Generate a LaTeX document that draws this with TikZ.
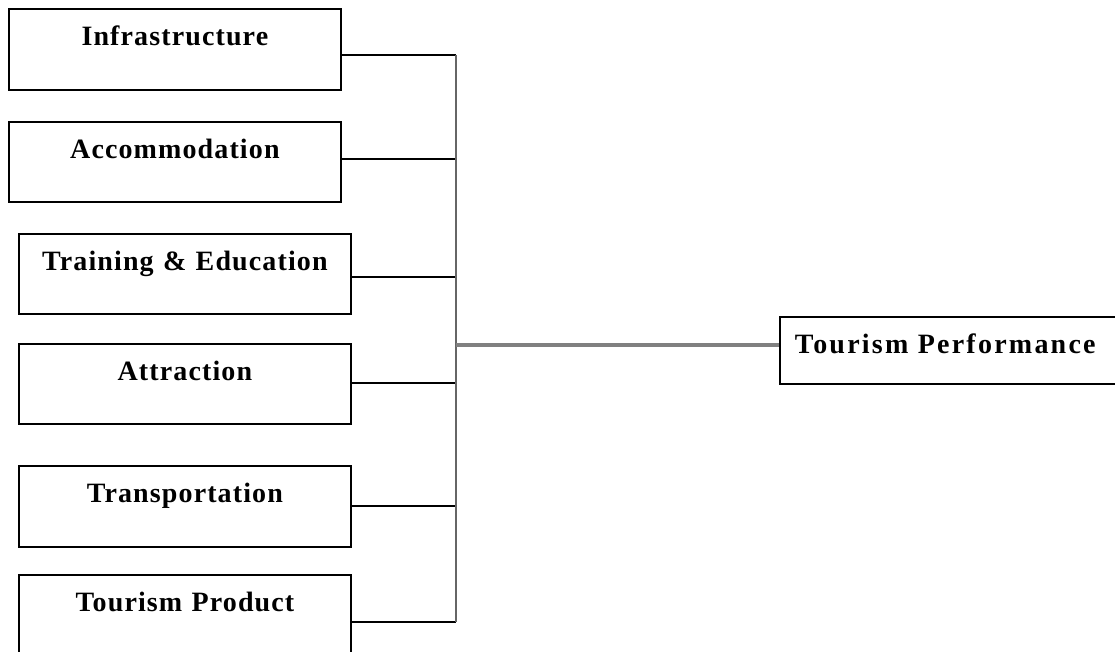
\documentclass[tikz,border=0pt]{standalone}
\usepackage{fontspec}
\setmainfont{Liberation Serif}[LetterSpace=4]
\usetikzlibrary{calc}

\tikzset{
  factor/.style={draw, line width=1.8pt, inner sep=0pt, anchor=north west,
    text width=#1, align=center, text height=37pt,
    font=\fontsize{28}{30}\selectfont\bfseries},
  link/.style={line width=1.6pt},
  bus/.style={line width=2.2pt, black!60},
  mainlink/.style={line width=3.2pt, black!50}
}

\begin{document}
\begin{tikzpicture}[x=1pt,y=-1pt]
        \useasboundingbox (0,0) rectangle (1115,652);
        \clip (0,0) rectangle (1115,652);

        % Factor boxes (left column)
        \foreach \name/\lbl/\x/\top/\bot in {
            infra/Infrastructure/8/8/89,
            accom/Accommodation/8/121/201,
            train/Training \& Education/18/233/313,
            attr/Attraction/18/343/423,
            trans/Transportation/18/465/546,
            prod/Tourism Product/18/574/660}{
            \pgfmathsetmacro{\dep}{\bot-\top-37}
            \node[factor=332pt, text depth=\dep pt] (\name) at (\x,\top) {\lbl};
        }

        % Junctions on the bus
        \coordinate (jinfra) at (456,55);
        \coordinate (jaccom) at (456,159);
        \coordinate (jtrain) at (456,277);
        \coordinate (jattr) at (456,383);
        \coordinate (jtrans) at (456,506);
        \coordinate (jprod) at (456,622);
        \coordinate (jmain) at (456,345);

        % Outcome box
        \node[draw, line width=1.8pt, inner sep=0pt, inner xsep=15pt,
            anchor=north west, text width=320pt, align=left,
            text height=37pt, text depth=30pt,
            font=\fontsize{28}{30}\selectfont\bfseries\addfontfeature{LetterSpace=8}]
            (perf) at (779,316) {Tourism Performance};

        % Connectors
        \foreach \name in {infra,accom,train,attr,trans,prod}{
            \draw[link] (j\name -| \name.east) -- (j\name);
        }
        \draw[bus] (jinfra) -- (jprod);
        \draw[mainlink] (jmain) -- (jmain -| perf.west);

\end{tikzpicture}
\end{document}
